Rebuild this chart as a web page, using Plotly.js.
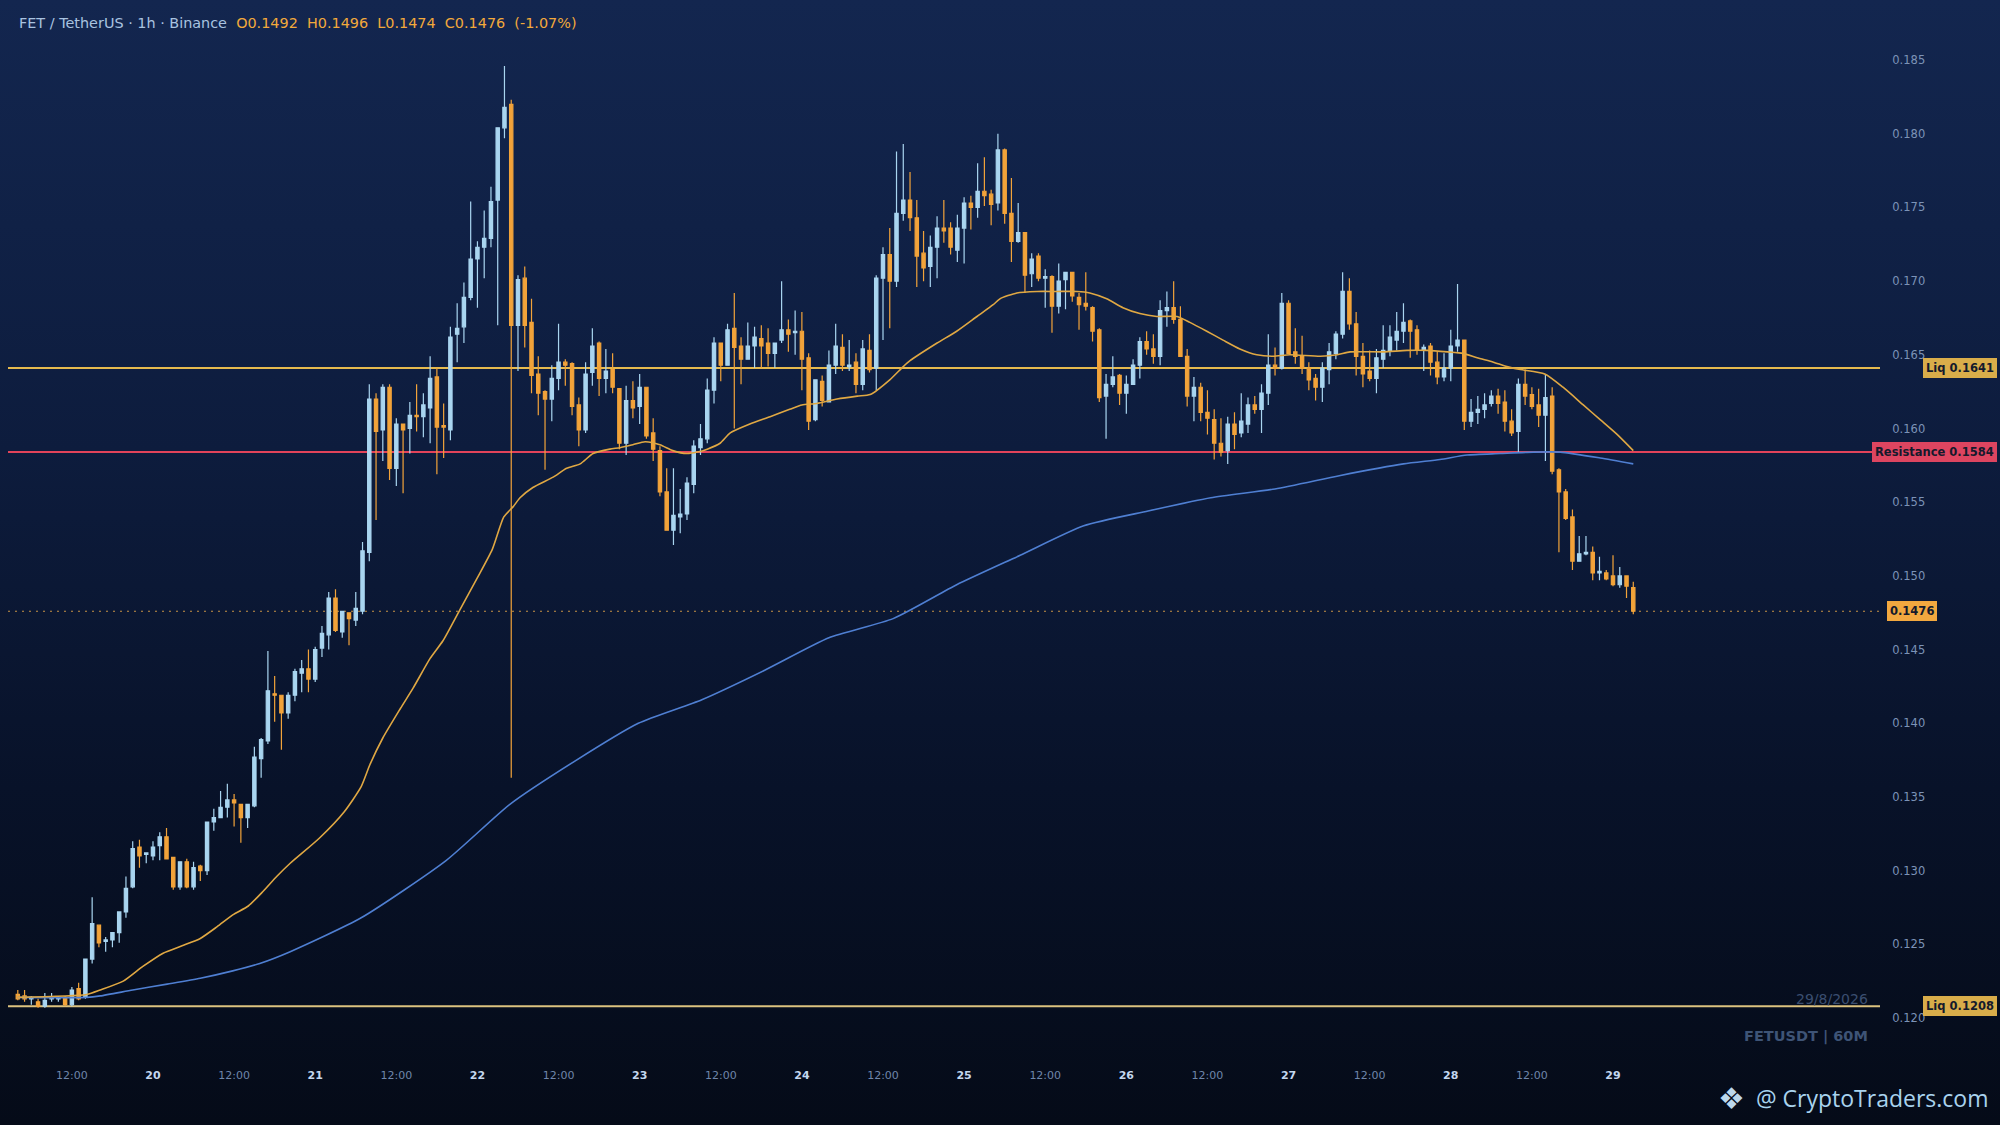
<!DOCTYPE html>
<html><head><meta charset="utf-8">
<script src="https://cdn.plot.ly/plotly-3.0.1.min.js"></script>
<style>
html,body{margin:0;padding:0;width:2000px;height:1125px;overflow:hidden;
background:linear-gradient(to bottom,#13264f 0%,#0d1c3d 40%,#081229 70%,#050b18 100%);}
#chart{width:2000px;height:1125px;}
</style></head><body><div id="chart"></div>
<script>
// FET/USDT 1h candles, first candle 19 Aug 2026 04:00
const startYear = 2026, startMonth = 8, startDay = 19, startHour = 4;

const opens = [
0.1216,0.1215,0.1213,0.1211,0.1208,0.1213,0.1213,0.1214,0.1209,0.1220,
0.1214,0.1240,0.1263,0.1252,0.1253,0.1258,0.1272,0.1289,0.1316,0.1311,
0.1310,0.1317,0.1323,0.1309,0.1289,0.1306,0.1289,0.1303,0.1300,0.1333,
0.1336,0.1343,0.1348,0.1345,0.1336,0.1344,0.1376,0.1388,0.1420,0.1419,
0.1407,0.1419,0.1434,0.1437,0.1430,0.1451,0.1460,0.1485,0.1462,0.1475,
0.1470,0.1476,0.1516,0.1620,0.1599,0.1628,0.1573,0.1603,0.1600,0.1609,
0.1608,0.1614,0.1635,0.1602,0.1599,0.1664,0.1669,0.1689,0.1715,0.1723,
0.1729,0.1755,0.1804,0.1820,0.1670,0.1702,0.1672,0.1637,0.1625,0.1620,
0.1634,0.1645,0.1644,0.1616,0.1599,0.1638,0.1658,0.1634,0.1640,0.1627,
0.1590,0.1619,0.1615,0.1628,0.1597,0.1585,0.1557,0.1531,0.1540,0.1542,
0.1562,0.1587,0.1593,0.1626,0.1658,0.1643,0.1668,0.1656,0.1647,0.1656,
0.1661,0.1658,0.1651,0.1660,0.1667,0.1665,0.1666,0.1648,0.1606,0.1632,
0.1618,0.1643,0.1655,0.1642,0.1645,0.1630,0.1653,0.1641,0.1702,0.1718,
0.1700,0.1746,0.1755,0.1743,0.1719,0.1710,0.1723,0.1736,0.1736,0.1721,
0.1736,0.1753,0.1750,0.1761,0.1759,0.1753,0.1789,0.1746,0.1727,0.1733,
0.1705,0.1717,0.1702,0.1703,0.1683,0.1701,0.1706,0.1689,0.1685,0.1682,
0.1667,0.1622,0.1630,0.1636,0.1624,0.1630,0.1643,0.1659,0.1654,0.1649,
0.1680,0.1682,0.1674,0.1649,0.1622,0.1628,0.1611,0.1606,0.1590,0.1585,
0.1603,0.1597,0.1603,0.1616,0.1613,0.1624,0.1643,0.1641,0.1685,0.1652,
0.1649,0.1641,0.1634,0.1628,0.1640,0.1651,0.1664,0.1693,0.1671,0.1649,
0.1639,0.1634,0.1647,0.1653,0.1660,0.1666,0.1673,0.1667,0.1653,0.1656,
0.1645,0.1635,0.1641,0.1656,0.1660,0.1605,0.1611,0.1613,0.1617,0.1622,
0.1618,0.1605,0.1598,0.1630,0.1623,0.1616,0.1609,0.1622,0.1572,0.1557,
0.1540,0.1510,0.1515,0.1516,0.1502,0.1502,0.1500,0.1494,0.1500,0.1492];

const highs = [
0.1219,0.1219,0.1215,0.1213,0.1217,0.1217,0.1215,0.1215,0.1221,0.1224,
0.1240,0.1282,0.1263,0.1255,0.1258,0.1272,0.1296,0.1320,0.1321,0.1312,
0.1320,0.1326,0.1329,0.1309,0.1306,0.1308,0.1306,0.1304,0.1333,0.1342,
0.1354,0.1359,0.1352,0.1345,0.1345,0.1384,0.1390,0.1449,0.1432,0.1419,
0.1421,0.1437,0.1443,0.1450,0.1452,0.1466,0.1489,0.1491,0.1476,0.1475,
0.1489,0.1523,0.1630,0.1624,0.1630,0.1630,0.1607,0.1603,0.1618,0.1630,
0.1624,0.1649,0.1641,0.1617,0.1669,0.1685,0.1699,0.1754,0.1727,0.1748,
0.1764,0.1804,0.1846,0.1823,0.1704,0.1710,0.1688,0.1649,0.1626,0.1643,
0.1671,0.1647,0.1645,0.1621,0.1645,0.1668,0.1659,0.1654,0.1651,0.1627,
0.1629,0.1632,0.1637,0.1628,0.1607,0.1588,0.1573,0.1573,0.1559,0.1567,
0.1592,0.1603,0.1634,0.1662,0.1658,0.1671,0.1692,0.1662,0.1672,0.1669,
0.1670,0.1668,0.1658,0.1700,0.1674,0.1680,0.1679,0.1651,0.1633,0.1636,
0.1653,0.1671,0.1664,0.1660,0.1651,0.1660,0.1664,0.1704,0.1723,0.1736,
0.1788,0.1793,0.1774,0.1755,0.1734,0.1731,0.1744,0.1755,0.1740,0.1745,
0.1757,0.1758,0.1780,0.1784,0.1762,0.1800,0.1790,0.1770,0.1753,0.1733,
0.1719,0.1719,0.1708,0.1704,0.1712,0.1706,0.1706,0.1692,0.1706,0.1683,
0.1668,0.1637,0.1649,0.1637,0.1636,0.1647,0.1662,0.1666,0.1664,0.1687,
0.1693,0.1700,0.1683,0.1654,0.1635,0.1631,0.1626,0.1613,0.1607,0.1608,
0.1611,0.1624,0.1621,0.1622,0.1630,0.1664,0.1655,0.1692,0.1687,0.1668,
0.1663,0.1645,0.1637,0.1645,0.1658,0.1666,0.1706,0.1702,0.1679,0.1658,
0.1653,0.1654,0.1670,0.1670,0.1679,0.1685,0.1674,0.1670,0.1657,0.1658,
0.1652,0.1651,0.1667,0.1698,0.1660,0.1620,0.1622,0.1624,0.1626,0.1627,
0.1626,0.1613,0.1634,0.1640,0.1628,0.1627,0.1637,0.1628,0.1573,0.1559,
0.1545,0.1527,0.1527,0.1520,0.1513,0.1504,0.1514,0.1506,0.1500,0.1496];

const lows = [
0.1212,0.1211,0.1209,0.1207,0.1207,0.1211,0.1211,0.1208,0.1208,0.1212,
0.1213,0.1237,0.1248,0.1245,0.1248,0.1251,0.1268,0.1288,0.1302,0.1305,
0.1307,0.1307,0.1308,0.1287,0.1287,0.1288,0.1287,0.1293,0.1297,0.1327,
0.1336,0.1336,0.1330,0.1319,0.1329,0.1343,0.1363,0.1386,0.1401,0.1382,
0.1403,0.1415,0.1421,0.1421,0.1428,0.1445,0.1450,0.1462,0.1458,0.1453,
0.1466,0.1474,0.1510,0.1538,0.1578,0.1565,0.1561,0.1556,0.1583,0.1598,
0.1594,0.1590,0.1569,0.1580,0.1592,0.1645,0.1658,0.1687,0.1682,0.1702,
0.1723,0.1670,0.1797,0.1363,0.1639,0.1655,0.1624,0.1609,0.1572,0.1605,
0.1626,0.1629,0.1609,0.1588,0.1597,0.1629,0.1622,0.1624,0.1624,0.1586,
0.1582,0.1607,0.1603,0.1593,0.1578,0.1554,0.1531,0.1521,0.1529,0.1538,
0.1556,0.1582,0.1590,0.1617,0.1632,0.1643,0.1600,0.1630,0.1647,0.1641,
0.1641,0.1642,0.1641,0.1658,0.1652,0.1650,0.1626,0.1599,0.1605,0.1615,
0.1618,0.1637,0.1639,0.1639,0.1624,0.1626,0.1638,0.1626,0.1660,0.1668,
0.1696,0.1741,0.1734,0.1696,0.1700,0.1696,0.1702,0.1726,0.1718,0.1713,
0.1712,0.1735,0.1743,0.1751,0.1738,0.1748,0.1739,0.1713,0.1726,0.1692,
0.1696,0.1700,0.1682,0.1665,0.1678,0.1681,0.1686,0.1667,0.1680,0.1659,
0.1618,0.1593,0.1628,0.1616,0.1610,0.1630,0.1634,0.1650,0.1644,0.1643,
0.1669,0.1671,0.1649,0.1615,0.1605,0.1605,0.1596,0.1579,0.1581,0.1576,
0.1586,0.1594,0.1597,0.1610,0.1597,0.1616,0.1636,0.1640,0.1651,0.1644,
0.1637,0.1626,0.1619,0.1618,0.1630,0.1647,0.1661,0.1667,0.1636,0.1628,
0.1632,0.1624,0.1641,0.1649,0.1653,0.1658,0.1648,0.1650,0.1639,0.1636,
0.1630,0.1632,0.1632,0.1652,0.1599,0.1601,0.1603,0.1607,0.1615,0.1610,
0.1598,0.1595,0.1584,0.1616,0.1613,0.1601,0.1578,0.1569,0.1516,0.1538,
0.1504,0.1510,0.1514,0.1497,0.1497,0.1497,0.1493,0.1492,0.1485,0.1474];

const closes = [
0.1213,0.1213,0.1214,0.1208,0.1212,0.1214,0.1214,0.1209,0.1219,0.1213,
0.1240,0.1264,0.1251,0.1253,0.1258,0.1272,0.1288,0.1315,0.1310,0.1312,
0.1316,0.1323,0.1308,0.1289,0.1306,0.1289,0.1302,0.1300,0.1333,0.1336,
0.1343,0.1348,0.1346,0.1336,0.1345,0.1377,0.1389,0.1422,0.1419,0.1407,
0.1419,0.1435,0.1437,0.1430,0.1450,0.1461,0.1485,0.1463,0.1476,0.1471,
0.1478,0.1517,0.1620,0.1598,0.1628,0.1573,0.1603,0.1599,0.1609,0.1608,
0.1616,0.1634,0.1601,0.1601,0.1662,0.1668,0.1689,0.1715,0.1723,0.1729,
0.1754,0.1804,0.1818,0.1670,0.1701,0.1670,0.1636,0.1624,0.1620,0.1634,
0.1645,0.1643,0.1615,0.1599,0.1637,0.1656,0.1634,0.1639,0.1628,0.1590,
0.1619,0.1614,0.1628,0.1595,0.1586,0.1557,0.1531,0.1541,0.1542,0.1563,
0.1588,0.1593,0.1626,0.1658,0.1643,0.1667,0.1655,0.1647,0.1656,0.1662,
0.1656,0.1651,0.1658,0.1667,0.1664,0.1666,0.1647,0.1605,0.1633,0.1619,
0.1643,0.1656,0.1643,0.1643,0.1630,0.1654,0.1640,0.1702,0.1718,0.1700,
0.1746,0.1755,0.1743,0.1717,0.1709,0.1723,0.1736,0.1734,0.1723,0.1736,
0.1753,0.1750,0.1761,0.1758,0.1752,0.1789,0.1746,0.1727,0.1733,0.1704,
0.1715,0.1702,0.1703,0.1683,0.1700,0.1706,0.1690,0.1684,0.1683,0.1666,
0.1621,0.1630,0.1635,0.1624,0.1630,0.1643,0.1659,0.1654,0.1649,0.1680,
0.1682,0.1674,0.1649,0.1622,0.1628,0.1611,0.1607,0.1590,0.1584,0.1603,
0.1596,0.1605,0.1616,0.1613,0.1624,0.1643,0.1641,0.1685,0.1651,0.1649,
0.1641,0.1633,0.1628,0.1641,0.1652,0.1664,0.1693,0.1671,0.1649,0.1637,
0.1634,0.1648,0.1653,0.1662,0.1666,0.1672,0.1666,0.1653,0.1655,0.1645,
0.1635,0.1641,0.1656,0.1660,0.1605,0.1611,0.1613,0.1616,0.1622,0.1617,
0.1605,0.1597,0.1630,0.1622,0.1615,0.1609,0.1621,0.1571,0.1557,0.1539,
0.1510,0.1515,0.1516,0.1502,0.1503,0.1498,0.1494,0.1500,0.1493,0.1476];

// Moving averages: hours after first candle, price
const fastMaHours = [0,10.2,12.2,15.6,18.5,21.5,24.3,27.0,29.5,31.8,34.1,36.3,38.3,40.3,44.6,48.3,50.8,52.1,54.0,56.6,58.5,61.0,62.9,65.4,67.9,70.2,71.9,73.3,74.3,76.2,79.2,81.2,83.2,85.1,87.6,89.1,91.0,92.8,95.0,96.9,99.0,100.5,102.0,103.9,105.4,108.3,111.3,114.2,116.0,118.2,121.2,124.2,126.1,129.0,131.0,132.0,136.0,138.9,141.9,144.3,145.3,147.8,150.8,153.7,156.7,158.6,161.1,163.5,166.0,168.5,171.5,173.4,175.9,178.3,180.8,183.3,185.7,188.2,192.7,195.2,197.1,202.0,205.5,208.5,211.5,213.8,215.9,218.3,220.3,222.3,225.9,228.6,231.6,234.1,236.6,239.0];
const fastMaValues = [0.1214,0.1216,0.1219,0.1225,0.1235,0.1244,0.1249,0.1254,0.1262,0.1270,0.1276,0.1286,0.1296,0.1305,0.1322,0.1340,0.1357,0.1372,0.1390,0.1410,0.1424,0.1444,0.1456,0.1477,0.1498,0.1518,0.1540,0.1547,0.1553,0.1560,0.1567,0.1573,0.1576,0.1583,0.1586,0.1587,0.1589,0.1591,0.1589,0.1585,0.1583,0.1584,0.1586,0.1590,0.1597,0.1603,0.1608,0.1613,0.1616,0.1617,0.1620,0.1622,0.1623,0.1633,0.1642,0.1646,0.1658,0.1666,0.1676,0.1684,0.1688,0.1692,0.1693,0.1693,0.1693,0.1692,0.1688,0.1682,0.1678,0.1676,0.1676,0.1672,0.1666,0.1660,0.1654,0.1650,0.1649,0.1650,0.1649,0.1650,0.1652,0.1652,0.1653,0.1653,0.1652,0.1651,0.1648,0.1645,0.1642,0.1640,0.1637,0.1628,0.1616,0.1606,0.1596,0.1585];
const slowMaHours = [0,10.2,12.2,17.0,22.1,27.0,31.8,35.8,40.3,50.8,63.4,72.8,82.3,91.8,101.2,110.5,120.0,129.5,138.9,148.3,157.7,167.2,176.5,186.0,195.5,205.0,210.4,214.4,219.3,224.2,228.2,234.1,239.0];
const slowMaValues = [0.1214,0.1214,0.1215,0.1219,0.1223,0.1227,0.1232,0.1237,0.1245,0.1268,0.1307,0.1345,0.1374,0.1400,0.1416,0.1436,0.1458,0.1471,0.1494,0.1514,0.1534,0.1544,0.1553,0.1559,0.1568,0.1576,0.1579,0.1582,0.1583,0.1584,0.1584,0.1580,0.1576];

const levelPrices = [0.1641, 0.1584, 0.1208];
const levelNames = ['Liq 0.1641', 'Resistance 0.1584', 'Liq 0.1208'];
const lastPrice = 0.1476;
const yTicks = [0.120,0.125,0.130,0.135,0.140,0.145,0.150,0.155,0.160,0.165,0.170,0.175,0.180,0.185];
const dayLabels = ['20','21','22','23','24','25','26','27','28','29'];

const HOUR = 3600000;
const t0 = Date.UTC(startYear, startMonth - 1, startDay, startHour);
const times = opens.map((_, i) => t0 + i * HOUR);
const fastX = fastMaHours.map(h => t0 + h * HOUR);
const slowX = slowMaHours.map(h => t0 + h * HOUR);

// x ticks: 12:00 of each day and midnight day numbers
const tickvals = [], ticktext = [];
const midnight20 = Date.UTC(startYear, startMonth - 1, startDay + 1, 0);
tickvals.push(midnight20 - 12 * HOUR); ticktext.push("<span style='color:#6f86aa'>12:00</span>");
dayLabels.forEach((d, i) => {
  const m = midnight20 + i * 24 * HOUR;
  tickvals.push(m); ticktext.push("<span style='color:#c4d7ee'><b>" + d + "</b></span>");
  if (i < dayLabels.length - 1) { tickvals.push(m + 12 * HOUR); ticktext.push("<span style='color:#6f86aa'>12:00</span>"); }
});

const UP = '#a9d5f0', DOWN = '#f2a33a';
const traces = [
  {type:'scatter', mode:'lines', x: slowX, y: slowMaValues, line:{color:'#4f7fd2', width:1.6, shape:'spline', smoothing:0.6}, hoverinfo:'skip'},
  {type:'scatter', mode:'lines', x: fastX, y: fastMaValues, line:{color:'#e0a843', width:1.6, shape:'spline', smoothing:0.6}, hoverinfo:'skip'},
  {type:'candlestick', x: times, open: opens, high: highs, low: lows, close: closes,
   increasing:{line:{color:UP, width:1.2}, fillcolor:UP},
   decreasing:{line:{color:DOWN, width:1.2}, fillcolor:DOWN},
   whiskerwidth:0, hoverinfo:'skip'}
];

const L = 8, R = 120, T = 30, B = 75, W = 2000, H = 1125;
const pw = W - L - R, ph = H - T - B;
const px = p => (p - L) / pw;          // pixel -> paper x
const py = p => (H - B - p) / ph;      // pixel -> paper y

const levelColors = ['#e6ba4e', '#e2435a', '#dcc27f'];
const shapes = levelPrices.map((p, i) => ({type:'line', xref:'paper', x0:0, x1:1, yref:'y', y0:p, y1:p,
  line:{color:levelColors[i], width:2}, layer:'below'}));
shapes.push({type:'line', xref:'paper', x0:0, x1:1, yref:'y', y0:lastPrice, y1:lastPrice,
  line:{color:'#c99446', width:1, dash:'2px,5px'}, layer:'below'});

const labelBg = ['#d9ad4a', '#dd4560', '#d9ad4a'];
const annotations = levelPrices.map((p, i) => ({xref:'paper', x:px(1997), xanchor:'right', yref:'y', y:p, yanchor:'middle',
  text:'<b>' + levelNames[i] + '</b>', showarrow:false, bgcolor:labelBg[i], bordercolor:labelBg[i], borderpad:2,
  font:{family:'DejaVu Sans', size:11.5, color:'#141a2c'}}));
annotations.push({xref:'paper', x:px(1911.5), xanchor:'center', yref:'y', y:lastPrice, yanchor:'middle',
  text:'<b>' + lastPrice.toFixed(4) + '</b>', showarrow:false, bgcolor:'#f2a83f', bordercolor:'#f2a83f', borderpad:2,
  font:{family:'DejaVu Sans', size:11.5, color:'#141a2c'}});
annotations.push({xref:'paper', yref:'paper', x:px(16.5), y:py(23), xanchor:'left', yanchor:'middle', showarrow:false,
  text:"<span style='color:#a9c3e0'>FET / TetherUS · 1h · Binance</span>\u00a0\u00a0<span style='color:#f2a93b'>O0.1492\u00a0\u00a0H0.1496\u00a0\u00a0L0.1474\u00a0\u00a0C0.1476\u00a0\u00a0(-1.07%)</span>",
  font:{family:'DejaVu Sans', size:14.4}});
annotations.push({xref:'paper', yref:'paper', x:px(1870), y:py(999), xanchor:'right', yanchor:'middle', showarrow:false,
  text:'29/8/2026', font:{family:'DejaVu Sans', size:14, color:'#3b4e70'}});
annotations.push({xref:'paper', yref:'paper', x:px(1870), y:py(1036), xanchor:'right', yanchor:'middle', showarrow:false,
  text:'<b>FETUSDT | 60M</b>', font:{family:'DejaVu Sans', size:14.5, color:'#3e5476'}});
annotations.push({xref:'paper', yref:'paper', x:px(1991), y:py(1098), xanchor:'right', yanchor:'middle', showarrow:false,
  text:'@ CryptoTraders.com', font:{family:'Open Sans', size:23, color:'#a9d3ee'}});
annotations.push({xref:'paper', yref:'paper', x:px(1731), y:py(1098), xanchor:'center', yanchor:'middle', showarrow:false,
  text:'❖', font:{family:'DejaVu Sans', size:30, color:'#bcd8ec'}});

const layout = {
  width: W, height: H,
  margin:{l:L, r:R, t:T, b:B, pad:0},
  paper_bgcolor:'rgba(0,0,0,0)', plot_bgcolor:'rgba(0,0,0,0)',
  showlegend:false, boxgap:0.3,
  font:{family:'DejaVu Sans'},
  xaxis:{type:'date', range:[t0 - 1.45 * HOUR, t0 + 275.5 * HOUR], rangeslider:{visible:false},
    showgrid:false, zeroline:false, showline:false, tickmode:'array', tickvals:tickvals, ticktext:ticktext,
    ticks:'outside', ticklen:15, tickcolor:'rgba(0,0,0,0)', tickfont:{family:'DejaVu Sans', size:11, color:'#6f86aa'}},
  yaxis:{range:[0.11783, 0.18704], side:'right', showgrid:false, zeroline:false, showline:false,
    tickmode:'array', tickvals:yTicks, ticktext:yTicks.map(v => v.toFixed(3)),
    ticks:'outside', ticklen:9, tickcolor:'rgba(0,0,0,0)', tickfont:{family:'DejaVu Sans', size:11.5, color:'#7c93b7'}},
  shapes: shapes,
  annotations: annotations
};

Plotly.newPlot('chart', traces, layout, {displayModeBar:false, staticPlot:true});
</script></body></html>
